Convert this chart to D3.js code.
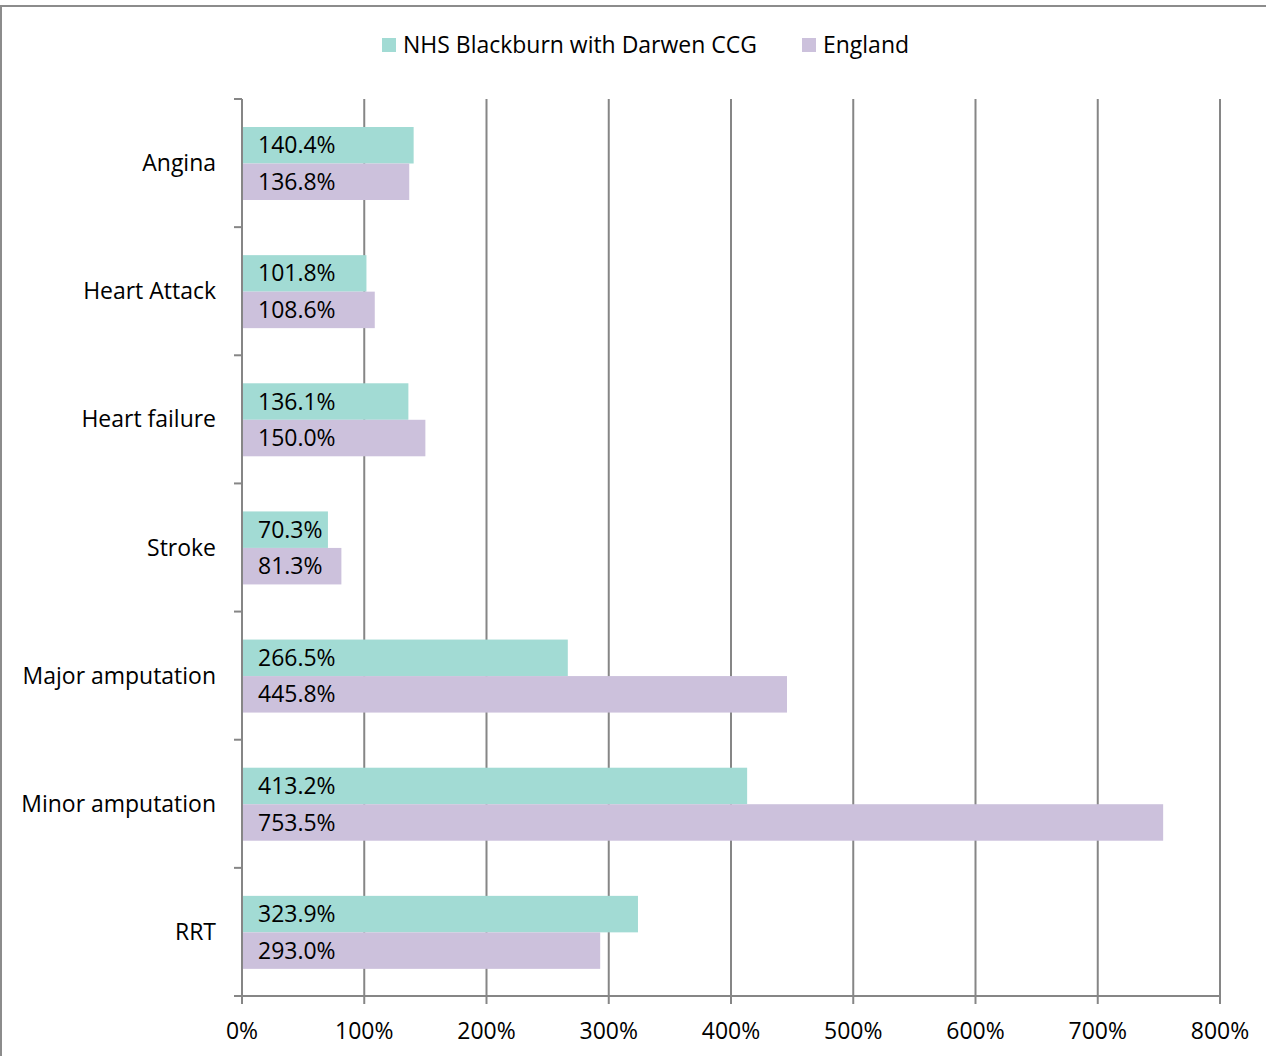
<!DOCTYPE html>
<html><head><meta charset="utf-8">
<script src="https://cdn.jsdelivr.net/npm/d3@7"></script>
<style>
body{margin:0;background:#fff;}
text{font-family:"Open Sans","Noto Sans",sans-serif;fill:#000;}
</style></head>
<body><svg id="c" width="1266" height="1056"></svg>
<script>
const categories = ["Angina","Heart Attack","Heart failure","Stroke","Major amputation","Minor amputation","RRT"];
const seriesNames = ["NHS Blackburn with Darwen CCG","England"];
const ccgValues = [140.4,101.8,136.1,70.3,266.5,413.2,323.9];
const englandValues = [136.8,108.6,150.0,81.3,445.8,753.5,293.0];
const xTicks = [0,100,200,300,400,500,600,700,800];
const colors = ["#a2dbd4","#ccc1dc"];

const svg = d3.select("#c");
// calibrate font size so that legend text width matches reference (~354px)
const probe = svg.append("text").attr("font-size",20).text(seriesNames[0]);
const w = probe.node().getComputedTextLength();
probe.remove();
const fs = Math.min(24, Math.max(17, 20*354/w));

svg.append("rect").attr("x",1).attr("y",6).attr("width",1266).attr("height",1056)
  .attr("fill","none").attr("stroke","#8c8c8c").attr("stroke-width",2);

const x = d3.scaleLinear().domain([0,800]).range([242,1220]);
const y = d3.scaleBand().domain(categories).range([99,996]);
const inner = d3.scaleBand().domain(seriesNames).range([28,128-27]);

svg.append("g").selectAll("line").data(xTicks.slice(1)).join("line")
  .attr("x1",d=>x(d)).attr("x2",d=>x(d)).attr("y1",99).attr("y2",996)
  .attr("stroke","#868686").attr("stroke-width",2);

const vals = [ccgValues, englandValues];
categories.forEach((c,i)=>{
  seriesNames.forEach((s,j)=>{
    svg.append("rect").attr("x",x(0)).attr("y",y(c)+inner(s))
      .attr("width",x(vals[j][i])-x(0)).attr("height",inner.bandwidth())
      .attr("fill",colors[j]);
    svg.append("text").attr("x",x(0)+16).attr("y",y(c)+inner(s)+inner.bandwidth()/2)
      .attr("dy","0.35em").attr("font-size",fs).text(vals[j][i].toFixed(1)+"%");
  });
});

const ya = svg.append("g");
ya.append("line").attr("x1",242).attr("x2",242).attr("y1",99).attr("y2",996).attr("stroke","#868686").attr("stroke-width",2);
const yt = categories.map(c=>y(c)).concat([996]);
ya.selectAll("line.t").data(yt).join("line").attr("class","t")
  .attr("x1",234).attr("x2",242).attr("y1",d=>d).attr("y2",d=>d).attr("stroke","#868686").attr("stroke-width",2);
ya.selectAll("text").data(categories).join("text")
  .attr("x",216).attr("y",d=>y(d)+y.bandwidth()/2).attr("dy","0.35em")
  .attr("text-anchor","end").attr("font-size",fs).text(d=>d);

const xa = svg.append("g");
xa.append("line").attr("x1",234).attr("x2",1220).attr("y1",996).attr("y2",996).attr("stroke","#868686").attr("stroke-width",2);
xa.selectAll("line.t").data(xTicks).join("line").attr("class","t")
  .attr("x1",d=>x(d)).attr("x2",d=>x(d)).attr("y1",996).attr("y2",1004).attr("stroke","#868686").attr("stroke-width",2);
xa.selectAll("text").data(xTicks).join("text")
  .attr("x",d=>x(d)).attr("y",1031).attr("dy","0.35em").attr("text-anchor","middle")
  .attr("font-size",fs).text(d=>d+"%");

const lg = [{n:seriesNames[0],x:382,c:colors[0]},{n:seriesNames[1],x:802,c:colors[1]}];
lg.forEach(l=>{
  svg.append("rect").attr("x",l.x).attr("y",38).attr("width",14).attr("height",14).attr("fill",l.c);
  svg.append("text").attr("x",l.x+21).attr("y",45).attr("dy","0.35em").attr("font-size",fs).text(l.n);
});
</script></body></html>
